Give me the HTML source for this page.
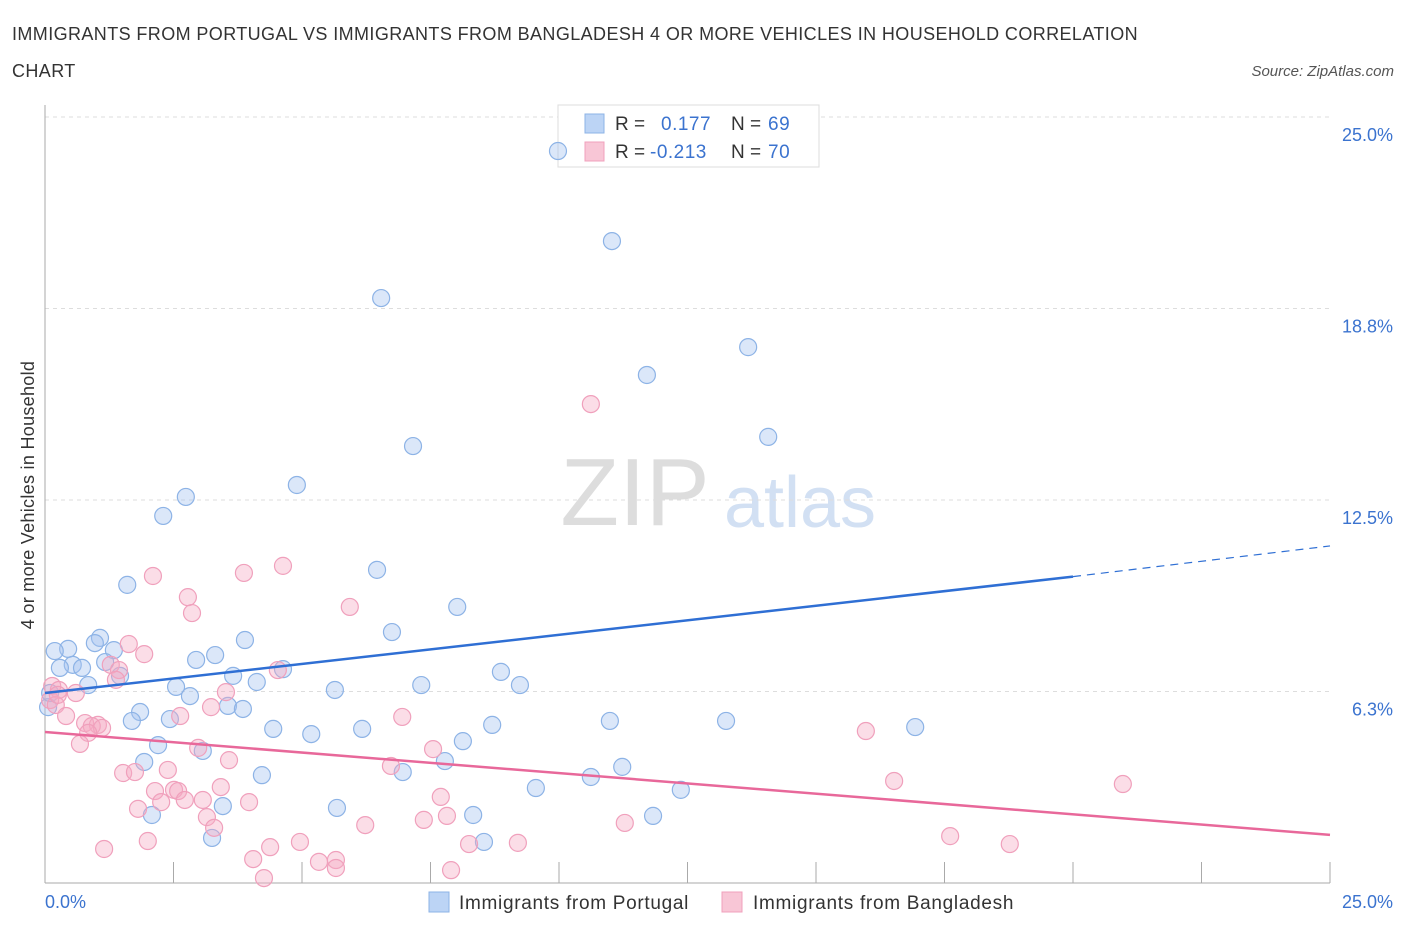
<!DOCTYPE html>
<html><head><meta charset="utf-8">
<style>
body{margin:0;background:#fff;font-family:"Liberation Sans",sans-serif;}
svg text{font-family:"Liberation Sans",sans-serif;}
</style></head>
<body>
<svg id="chart" width="1406" height="930">
<text x="12" y="40" font-size="18" fill="#333" letter-spacing="0.4">IMMIGRANTS FROM PORTUGAL VS IMMIGRANTS FROM BANGLADESH 4 OR MORE VEHICLES IN HOUSEHOLD CORRELATION</text>
<text x="12" y="77" font-size="18" fill="#333" letter-spacing="0.4">CHART</text>
<text x="1394" y="76" font-size="15" fill="#555" font-style="italic" text-anchor="end">Source: ZipAtlas.com</text>
<text x="635" y="525" font-size="96" fill="#ddd" font-family="Liberation Serif" text-anchor="middle">ZIP</text>
<text x="800" y="527" font-size="72" fill="#d2e0f3" text-anchor="middle">atlas</text>
<g id="grid"></g>
<g id="axes"></g>
<g>
<rect x="558" y="105" width="261" height="62" fill="#fff" stroke="#ddd"/>
<rect x="585" y="114" width="19" height="19" fill="#bcd4f5" stroke="#8db3e6"/>
<rect x="585" y="142" width="19" height="19" fill="#f8c6d6" stroke="#f0a0bc"/>
<text x="615" y="130" font-size="19" fill="#333">R = </text><text x="661" y="130" font-size="19" fill="#3b73cf" letter-spacing="0.5">0.177</text>
<text x="731" y="130" font-size="19" fill="#333">N = </text><text x="768" y="130" font-size="19" fill="#3b73cf" letter-spacing="0.5">69</text>
<text x="615" y="158" font-size="19" fill="#333">R = </text><text x="650" y="158" font-size="19" fill="#3b73cf" letter-spacing="0.5">-0.213</text>
<text x="731" y="158" font-size="19" fill="#333">N = </text><text x="768" y="158" font-size="19" fill="#3b73cf" letter-spacing="0.5">70</text>
</g>
<g id="pts"></g>
<g id="lines"></g>
<text transform="translate(34,495) rotate(-90)" font-size="18" fill="#333" text-anchor="middle" letter-spacing="0.3">4 or more Vehicles in Household</text>
<g>
<rect x="429" y="892" width="20" height="20" fill="#bcd4f5" stroke="#8db3e6"/>
<text x="459" y="909" font-size="19" fill="#333" letter-spacing="0.7">Immigrants from Portugal</text>
<rect x="722" y="892" width="20" height="20" fill="#f8c6d6" stroke="#f0a0bc"/>
<text x="753" y="909" font-size="19" fill="#333" letter-spacing="0.7">Immigrants from Bangladesh</text>
</g>
</svg>
<script>
const yTicks=[6.25,12.5,18.75,25];
const yTickLabels=["6.3%","12.5%","18.8%","25.0%"];
const xTickVals=[0,2.5,5,7.5,10,12.5,15,17.5,20,22.5,25];
const blueX=[9.98,11.03,6.54,13.68,11.71,14.07,7.16,4.90,2.74,2.30,6.46,1.60,8.02,6.75,3.89,1.07,0.97,0.45,0.19,1.34,3.31,2.94,0.54,0.72,0.29,1.17,4.63,1.46,3.66,4.12,0.84,2.55,7.32,8.87,9.24,5.64,2.82,3.56,3.85,1.85,0.06,1.69,2.43,10.99,13.25,16.93,8.70,4.44,6.17,5.18,8.13,2.20,3.07,7.78,1.93,11.23,6.96,4.22,10.62,9.55,12.37,3.46,5.68,2.08,8.33,11.83,3.25,8.54,0.10];
const blueY=[23.89,20.95,19.09,17.49,16.58,14.56,14.26,12.99,12.60,11.98,10.22,9.73,9.01,8.19,7.93,8.00,7.83,7.64,7.57,7.60,7.44,7.28,7.12,7.02,7.02,7.21,6.98,6.76,6.76,6.56,6.46,6.40,6.46,6.89,6.46,6.30,6.10,5.78,5.68,5.58,5.74,5.29,5.35,5.29,5.29,5.09,5.16,5.03,5.03,4.86,4.63,4.50,4.31,3.98,3.95,3.79,3.62,3.52,3.46,3.10,3.04,2.51,2.45,2.22,2.22,2.19,1.47,1.34,6.20];
const pinkX=[10.62,4.63,2.10,3.87,2.78,2.86,5.93,1.63,1.93,1.28,1.44,4.53,1.38,0.14,0.27,0.60,3.52,0.10,0.21,3.23,2.63,0.41,6.95,0.78,1.03,0.91,1.11,0.84,15.97,0.68,2.98,7.55,3.58,6.73,1.52,1.75,2.39,16.52,20.97,3.42,2.14,2.51,2.59,2.72,7.70,3.07,3.97,1.81,2.26,3.15,7.82,7.37,3.29,6.23,11.28,17.61,18.77,2.00,1.15,8.25,9.20,4.96,4.38,4.05,5.66,5.33,5.66,4.26,7.90,0.25];
const pinkY=[15.63,10.35,10.02,10.12,9.33,8.81,9.01,7.80,7.47,7.12,6.95,6.95,6.63,6.43,6.30,6.20,6.23,5.97,5.81,5.74,5.45,5.45,5.42,5.22,5.16,5.12,5.06,4.90,4.96,4.54,4.41,4.37,4.01,3.82,3.59,3.62,3.69,3.33,3.23,3.13,3.00,3.04,3.00,2.71,2.81,2.71,2.64,2.42,2.64,2.15,2.19,2.06,1.80,1.89,1.96,1.53,1.27,1.37,1.11,1.27,1.31,1.34,1.17,0.78,0.75,0.69,0.49,0.16,0.42,6.14];
const blueTrend=[6.2,10.0,11.0]; // at x=0,20,25
const pinkTrend=[4.93,1.57];     // at x=0,25
const NS="http://www.w3.org/2000/svg";
const X=v=>45+v/25*1285, Y=v=>883-v/25*766;
function mk(tag,attrs,parent){const e=document.createElementNS(NS,tag);for(const k in attrs)e.setAttribute(k,attrs[k]);document.getElementById(parent).appendChild(e);return e;}
yTicks.forEach((t,i)=>{
  const g=mk('line',{x1:45,x2:1330,y1:Y(t),y2:Y(t),stroke:'#ddd','stroke-dasharray':'4,4'},'grid');
  
  
  const l=mk('text',{x:1393,y:Y(t)+24,'font-size':18,fill:'#3b73cf','text-anchor':'end'},'grid');
  l.textContent=yTickLabels[i];
  
  
});
const ax=mk('line',{x1:45,x2:45,y1:105,y2:883,stroke:'#aaa'},'axes');


const bx=mk('line',{x1:45,x2:1330,y1:883,y2:883,stroke:'#aaa'},'axes');


xTickVals.forEach(v=>{
  const t=mk('line',{x1:X(v),x2:X(v),y1:862,y2:883,stroke:'#aaa'},'axes');
  
  
});
const xl0=mk('text',{x:45,y:908,'font-size':18,fill:'#3b73cf'},'axes');xl0.textContent='0.0%';


const xl1=mk('text',{x:1393,y:908,'font-size':18,fill:'#3b73cf','text-anchor':'end'},'axes');xl1.textContent='25.0%';


blueX.forEach((v,i)=>{
  const c=mk('circle',{cx:X(v),cy:Y(blueY[i]),r:8.5,fill:'rgba(164,196,240,0.4)',stroke:'#8db3e6','stroke-width':1.2},'pts');
  
  
});
pinkX.forEach((v,i)=>{
  const c=mk('circle',{cx:X(v),cy:Y(pinkY[i]),r:8.5,fill:'rgba(244,170,195,0.4)',stroke:'#f0a0bc','stroke-width':1.2},'pts');
  
  
});
const b1=mk('line',{x1:X(0),y1:Y(blueTrend[0]),x2:X(20),y2:Y(blueTrend[1]),stroke:'#2f6fd4','stroke-width':2.5},'lines');


const b2=mk('line',{x1:X(20),y1:Y(blueTrend[1]),x2:X(25),y2:Y(blueTrend[2]),stroke:'#2f6fd4','stroke-width':1.2,'stroke-dasharray':'8,6'},'lines');


const p1=mk('line',{x1:X(0),y1:Y(pinkTrend[0]),x2:X(25),y2:Y(pinkTrend[1]),stroke:'#e8689a','stroke-width':2.5},'lines');


</script>
</body></html>
